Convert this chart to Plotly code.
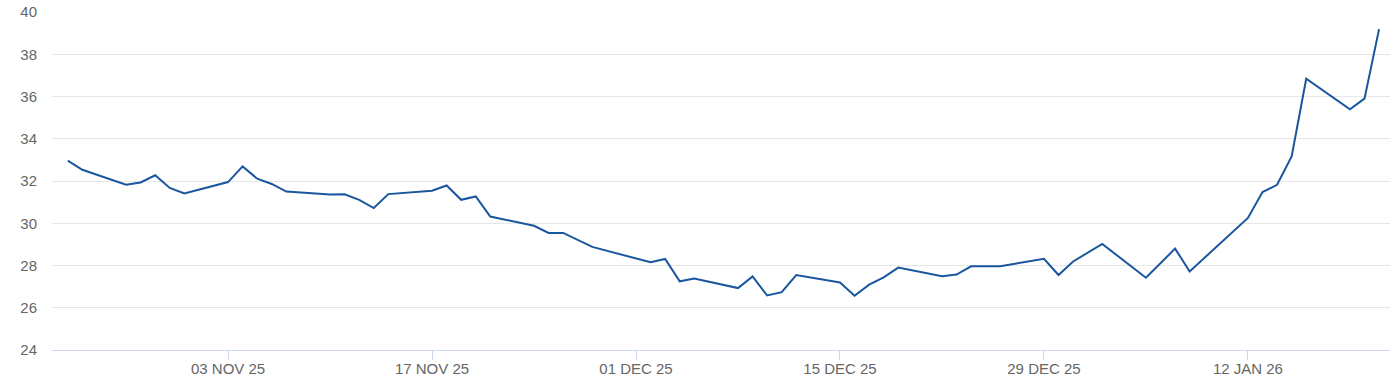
import plotly.graph_objects as go

dates = [
    "2025-10-23", "2025-10-24", "2025-10-27", "2025-10-28", "2025-10-29", "2025-10-30", "2025-10-31",
    "2025-11-03", "2025-11-04", "2025-11-05", "2025-11-06", "2025-11-07",
    "2025-11-10", "2025-11-11", "2025-11-12", "2025-11-13", "2025-11-14",
    "2025-11-17", "2025-11-18", "2025-11-19", "2025-11-20", "2025-11-21",
    "2025-11-24", "2025-11-25", "2025-11-26", "2025-11-28",
    "2025-12-02", "2025-12-03", "2025-12-04", "2025-12-05",
    "2025-12-08", "2025-12-09", "2025-12-10", "2025-12-11", "2025-12-12",
    "2025-12-15", "2025-12-16", "2025-12-17", "2025-12-18", "2025-12-19",
    "2025-12-22", "2025-12-23", "2025-12-24", "2025-12-26",
    "2025-12-29", "2025-12-30", "2025-12-31", "2026-01-02",
    "2026-01-05", "2026-01-07", "2026-01-08",
    "2026-01-12", "2026-01-13", "2026-01-14", "2026-01-15", "2026-01-16",
    "2026-01-19", "2026-01-20", "2026-01-21",
]
values = [
    32.96, 32.53, 31.82, 31.93, 32.27, 31.67, 31.41,
    31.95, 32.69, 32.11, 31.86, 31.50,
    31.36, 31.37, 31.11, 30.72, 31.38,
    31.54, 31.79, 31.11, 31.27, 30.32,
    29.88, 29.54, 29.54, 28.88,
    28.15, 28.31, 27.25, 27.38,
    26.93, 27.48, 26.58, 26.74, 27.55,
    27.20, 26.57, 27.09, 27.44, 27.90,
    27.49, 27.57, 27.96, 27.96,
    28.32, 27.55, 28.19, 29.02,
    27.42, 28.80, 27.72,
    30.25, 31.48, 31.82, 33.16, 36.84,
    35.39, 35.90, 39.19,
]

x_tick_vals = ["2025-11-03", "2025-11-17", "2025-12-01", "2025-12-15", "2025-12-29", "2026-01-12"]
x_tick_text = ["03 NOV 25", "17 NOV 25", "01 DEC 25", "15 DEC 25", "29 DEC 25", "12 JAN 26"]
y_tick_vals = [24, 26, 28, 30, 32, 34, 36, 38, 40]

fig = go.Figure()
fig.add_trace(go.Scatter(
    x=dates, y=values, mode="lines",
    line=dict(color="#1a569d", width=2),
    showlegend=False,
))

font_family = "Liberation Sans, Arial, sans-serif"
fig.update_layout(
    width=1398, height=388,
    margin=dict(l=52, r=8, t=12, b=38, autoexpand=False),
    paper_bgcolor="white", plot_bgcolor="white",
    font=dict(family=font_family, size=15, color="#666666"),
    xaxis=dict(
        type="date", automargin=False,
        range=["2025-10-21 22:00", "2026-01-21 18:00"],
        tickvals=x_tick_vals, ticktext=x_tick_text,
        showgrid=False, zeroline=False,
        showline=True, linecolor="#ccd6eb", linewidth=1,
        ticks="outside", ticklen=9, tickcolor="#ccd6eb", tickwidth=1,
        ticklabelstandoff=-4,
        tickfont=dict(size=15, color="#666666"),
    ),
    yaxis=dict(
        range=[24, 40], automargin=False,
        tickvals=y_tick_vals,
        showgrid=True, gridcolor="#e6e6e6", gridwidth=1,
        zeroline=False, showline=False,
        ticks="", ticklabelstandoff=14,
        tickfont=dict(size=15, color="#666666"),
    ),
)

fig.write_html("out.html")
